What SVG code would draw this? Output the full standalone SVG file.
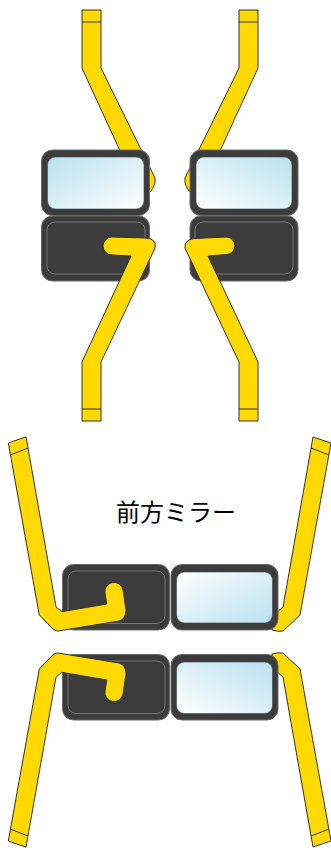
<svg xmlns="http://www.w3.org/2000/svg" width="331" height="850" viewBox="0 0 331 850">
<style>
.box{fill:#3c3c3c;stroke:#6a6a6a;stroke-width:1}
.inner{fill:none;stroke:#777;stroke-width:1}
.arm,.band{fill:#ffd900;stroke:#333;stroke-width:1;stroke-linejoin:round}
.band{fill:none}
text{font-family:"Noto Sans CJK JP","Noto Sans",sans-serif;font-size:24px;fill:#000}
</style>
<defs>
<linearGradient id="gLR" x1="0" y1="0" x2="1" y2="1"><stop offset="0" stop-color="#b9e1ef"/><stop offset="1" stop-color="#fff"/></linearGradient>
<linearGradient id="gRL" x1="1" y1="0" x2="0" y2="1"><stop offset="0" stop-color="#b9e1ef"/><stop offset="1" stop-color="#fff"/></linearGradient>
<linearGradient id="gWB" x1="0" y1="0" x2="1" y2="1"><stop offset="0" stop-color="#fff"/><stop offset="1" stop-color="#b9e1ef"/></linearGradient>
<linearGradient id="gUp" x1="0" y1="1" x2="1" y2="0"><stop offset="0" stop-color="#fff"/><stop offset="1" stop-color="#b9e1ef"/></linearGradient>
</defs>
<g id="connectors">
<g id="arm-top-upper-left"><path class="arm" d="M82,10H101V68L155,178Q156,185 150.500,191.500L138,190L82,68Z"/><path class="band" d="M82,22H101"/></g>
<g id="arm-top-upper-right"><path class="arm" d="M258,10H239V68L185,178Q184,185 189.500,191.500L202,190L258,68Z"/><path class="band" d="M258,22H239"/></g>
<g id="arm-bottom-top-right"><path class="arm" d="M331,443L313,437L283,607L277,612L272,625V630Q278,632 283,631L300,615Z"/><path class="band" d="M329,455L311,448"/></g>
<g id="arm-bottom-low-right"><path class="arm" d="M331,841L313,847L283,677L277,672L272,659V654Q278,652 283,653L300,669Z"/><path class="band" d="M329,829L311,836"/></g>
</g>
<g id="mirror-top-left-glass"><rect class="box" x="41.500" y="150" width="108" height="65.500" rx="11"/><rect x="47.500" y="157" width="96.500" height="52" rx="8" fill="url(#gLR)" stroke="#444" stroke-width="0.600"/></g>
<g id="mirror-top-left-blank"><rect class="box" x="41.500" y="216" width="108" height="65" rx="11"/><rect class="inner" x="47" y="222" width="98" height="52" rx="8"/></g>
<g id="mirror-top-right-glass"><rect class="box" x="190" y="150" width="108" height="65.500" rx="11"/><rect x="196" y="157" width="96" height="52" rx="8" fill="url(#gRL)" stroke="#444" stroke-width="0.600"/></g>
<g id="mirror-top-right-blank"><rect class="box" x="190" y="216" width="108" height="65" rx="11"/><rect class="inner" x="195" y="222" width="98" height="52" rx="8"/></g>
<g id="mirror-bottom-top-left"><rect class="box" x="62.500" y="564.500" width="107" height="65.500" rx="11"/><rect class="inner" x="68" y="571" width="97" height="52.500" rx="8"/></g>
<g id="mirror-bottom-top-right"><rect class="box" x="171" y="564.500" width="107" height="65.500" rx="11"/><rect x="176.500" y="572" width="96" height="51" rx="8" fill="url(#gWB)" stroke="#444" stroke-width="0.600"/></g>
<g id="mirror-bottom-low-left"><rect class="box" x="62.500" y="654.500" width="107" height="65.500" rx="11"/><rect class="inner" x="68" y="661" width="97" height="52.500" rx="8"/></g>
<g id="mirror-bottom-low-right-glass"><rect class="box" x="171" y="654.500" width="107" height="65.500" rx="11"/><rect x="176.500" y="662" width="96" height="51.500" rx="8" fill="url(#gUp)" stroke="#444" stroke-width="0.600"/></g>
<g id="arms-front">
<g id="arm-top-lower-left"><path class="arm" d="M112,237L146,238Q157,239 155,248L101,362V421H82V362L131,256L112,255A9,9 0 0 1 112,237Z"/><path class="band" d="M82,409H101"/></g>
<g id="arm-top-lower-right"><path class="arm" d="M227,237L194,238.500Q184,240 185,248L239,362V421H258V362L208,256L227,254.500A8.800,8.800 0 0 0 227,237Z"/><path class="band" d="M258,409H239"/></g>
<g id="arm-bottom-top-left"><path class="arm" d="M8.300,443L26,436.800L56,606.800L61.700,611.700L106.700,604L105,593A9,9 0 0 1 123,590L126,610Q126,619 119,621L58,631Q55,631 53,629L39.300,615Z"/><path class="band" d="M10.300,455L28,448"/></g>
<g id="arm-bottom-low-left"><path class="arm" d="M8.300,841L26,847.200L56,677.200L61.700,672.300L106.700,680L105,691A9,9 0 0 0 123,694L126,674Q126,665 119,663L58,653Q55,653 53,655L39.300,669Z"/><path class="band" d="M10.300,829L28,836"/></g>
</g>
<g id="label"><text x="176" y="521" text-anchor="middle">前方ミラー</text></g>
</svg>
